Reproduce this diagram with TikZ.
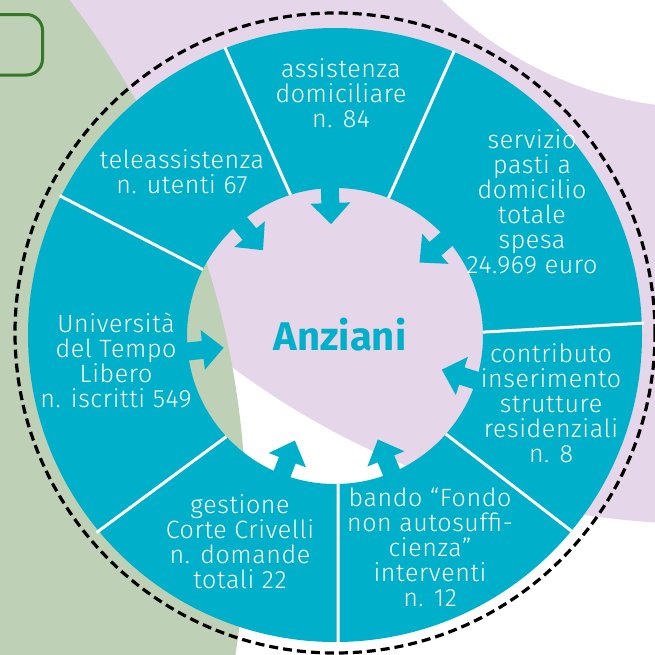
\documentclass[tikz,border=0pt]{standalone}
\usepackage{fontspec}
\setmainfont{Fira Sans}[UprightFont={* Light}, BoldFont={* Bold}]
\newfontfamily\lblfont{Fira Sans}[UprightFont={* Light}, LetterSpace=2.5]
\definecolor{ringblue}{RGB}{0,176,203}
\definecolor{bgpink}{RGB}{230,214,234}
\definecolor{bggreen}{RGB}{190,208,182}
\definecolor{boxgreen}{RGB}{52,120,40}
\tikzset{
  lbl/.style={text=white, align=center, inner sep=0pt, anchor=base,
    font=\lblfont\fontsize{25}{25}\selectfont},
  sepline/.style={white, line width=3pt},
  inarrow/.style={fill=ringblue, draw=none},
}
\begin{document}
\begin{tikzpicture}[x=1pt,y=-1pt]
\useasboundingbox (0,0) rectangle (655,654);
\clip (0,0) rectangle (655,654);
% background
\fill[white] (0,0) rectangle (655,654);
\fill[bgpink, even odd rule] (705,-267) circle[radius=791pt] (705,-267) circle[radius=375pt];
\fill[bggreen] (-608,520) circle[radius=854pt];
\draw[boxgreen, line width=3pt, rounded corners=16pt] (-40,14.5) rectangle (42.5,75);
% dashed outer circle
\draw[black, line width=3.2pt, dash pattern=on 9pt off 5pt] (335,333) circle[radius=320pt];
% blue ring
\coordinate (c) at (335,336);
\fill[ringblue, even odd rule] (335,335) circle[radius=307pt] (c) circle[radius=148pt];
% arrows
\foreach \a in {130,92,41,-17.5,-67.5,-111,186}{
  \fill[inarrow, shift={(c)}, rotate=\a]
    (112pt,0pt) -- (133pt,20pt) -- (133pt,9pt) -- (168pt,9pt) -- (168pt,-9pt)
    -- (133pt,-9pt) -- (133pt,-20pt) -- cycle;
}
% separators
\foreach \i/\o in {107.5/110.9, 68.8/67.3, 1.5/2.4, -41.5/-39.5, -88.8/-89.4, 222.8/219.5, 153.3/153}{
  \draw[sepline, shift={(c)}] (\i:148pt) -- (\o:309pt);
}
% labels (anchor = baseline of last line)
\node[lbl] (assist) at (341,127) {assistenza\\domiciliare\\n. 84};
\node[lbl] (tele) at (182,193) {teleassistenza\\n. utenti 67};
\node[lbl] (pasti) at (532,273) {servizio\\pasti a\\domicilio\\totale\\spesa\\24.969 euro};
\node[lbl] (contrib) at (551,462) {contributo\\inserimento\\strutture\\residenziali\\n. 8};
\node[lbl] (bando) at (430,606) {bando “Fondo\\non autosuffi-\\cienza”\\interventi\\n. 12};
\node[lbl] (corte) at (240,588) {gestione\\Corte Crivelli\\n. domande\\totali 22};
\node[lbl] (univ) at (116,407) {Università\\del Tempo\\Libero\\n. iscritti 549};
\node[text=ringblue, inner sep=0pt, anchor=base, font=\fontsize{40}{40}\selectfont\bfseries] (anz) at (340,350) {Anziani};
\end{tikzpicture}
\end{document}
